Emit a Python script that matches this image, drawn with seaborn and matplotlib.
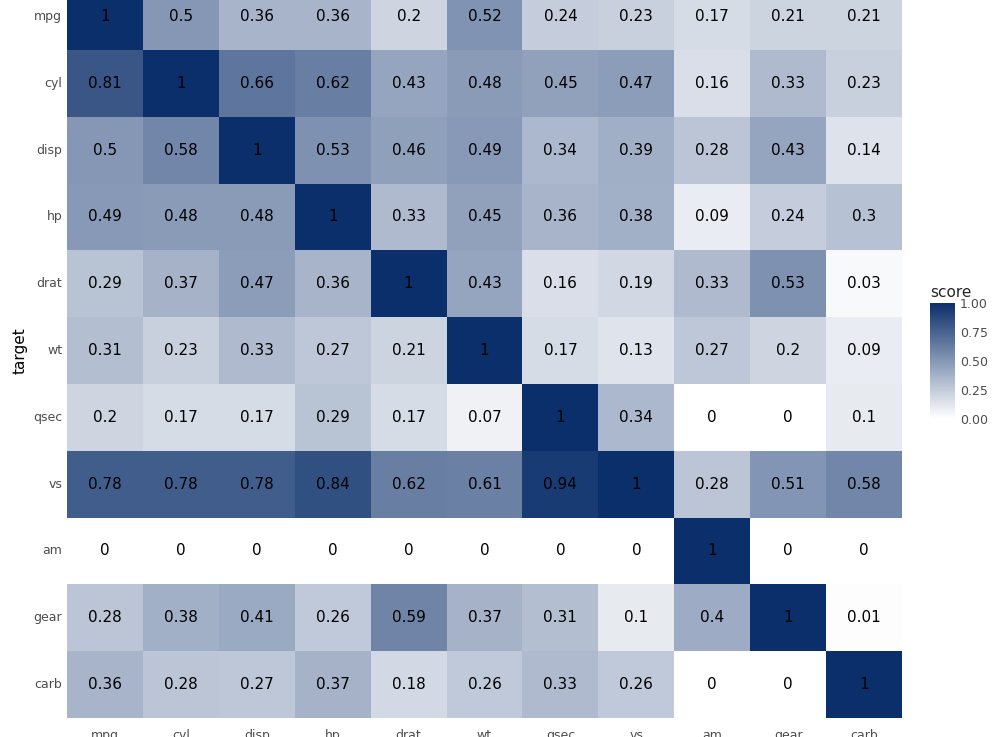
import matplotlib.pyplot as plt
import numpy as np
import pandas as pd
import seaborn as sns
from matplotlib.colors import LinearSegmentedColormap

VARS = ["mpg", "cyl", "disp", "hp", "drat", "wt", "qsec", "vs", "am", "gear", "carb"]

MPG = [1, 0.5, 0.36, 0.36, 0.2, 0.52, 0.24, 0.23, 0.17, 0.21, 0.21]
CYL = [0.81, 1, 0.66, 0.62, 0.43, 0.48, 0.45, 0.47, 0.16, 0.33, 0.23]
DISP = [0.5, 0.58, 1, 0.53, 0.46, 0.49, 0.34, 0.39, 0.28, 0.43, 0.14]
HP = [0.49, 0.48, 0.48, 1, 0.33, 0.45, 0.36, 0.38, 0.09, 0.24, 0.3]
DRAT = [0.29, 0.37, 0.47, 0.36, 1, 0.43, 0.16, 0.19, 0.33, 0.53, 0.03]
WT = [0.31, 0.23, 0.33, 0.27, 0.21, 1, 0.17, 0.13, 0.27, 0.2, 0.09]
QSEC = [0.2, 0.17, 0.17, 0.29, 0.17, 0.07, 1, 0.34, 0, 0, 0.1]
VS = [0.78, 0.78, 0.78, 0.84, 0.62, 0.61, 0.94, 1, 0.28, 0.51, 0.58]
AM = [0, 0, 0, 0, 0, 0, 0, 0, 1, 0, 0]
GEAR = [0.28, 0.38, 0.41, 0.26, 0.59, 0.37, 0.31, 0.1, 0.4, 1, 0.01]
CARB = [0.36, 0.28, 0.27, 0.37, 0.18, 0.26, 0.33, 0.26, 0, 0, 1]

ROWS = [MPG, CYL, DISP, HP, DRAT, WT, QSEC, VS, AM, GEAR, CARB]


def main():
    sns.set_theme(style="white")
    df = pd.DataFrame(ROWS, index=VARS, columns=VARS)
    labels = np.array([[f"{v:g}" for v in row] for row in ROWS])
    cmap = LinearSegmentedColormap.from_list("score", ["#ffffff", "#0b2f6b"])

    fig = plt.figure(figsize=(10, 7.37), dpi=100)
    ax = fig.add_axes([0.067, 0.0258, 0.835, 0.997])
    cax = fig.add_axes([0.930, 0.432, 0.025, 0.157])

    sns.heatmap(
        df,
        ax=ax,
        cbar_ax=cax,
        cmap=cmap,
        vmin=0,
        vmax=1,
        annot=labels,
        fmt="",
        annot_kws={"fontsize": 11, "color": "black"},
        cbar_kws={"ticks": [0, 0.25, 0.5, 0.75, 1.0], "format": "%.2f"},
    )
    ax.set_ylabel("target", fontsize=11, color="black")
    ax.set_xlabel("")
    ax.tick_params(axis="both", length=0, labelsize=9, colors="#4d4d4d")
    ax.tick_params(axis="x", pad=8)
    plt.setp(ax.get_yticklabels(), rotation=0)

    cax.tick_params(length=0, labelsize=9, colors="#4d4d4d")
    for spine in cax.spines.values():
        spine.set_visible(False)
    cax.set_title("score", fontsize=11, loc="left", pad=4)

    fig.savefig("out.png", dpi=100)
    plt.close(fig)


if __name__ == "__main__":
    main()
